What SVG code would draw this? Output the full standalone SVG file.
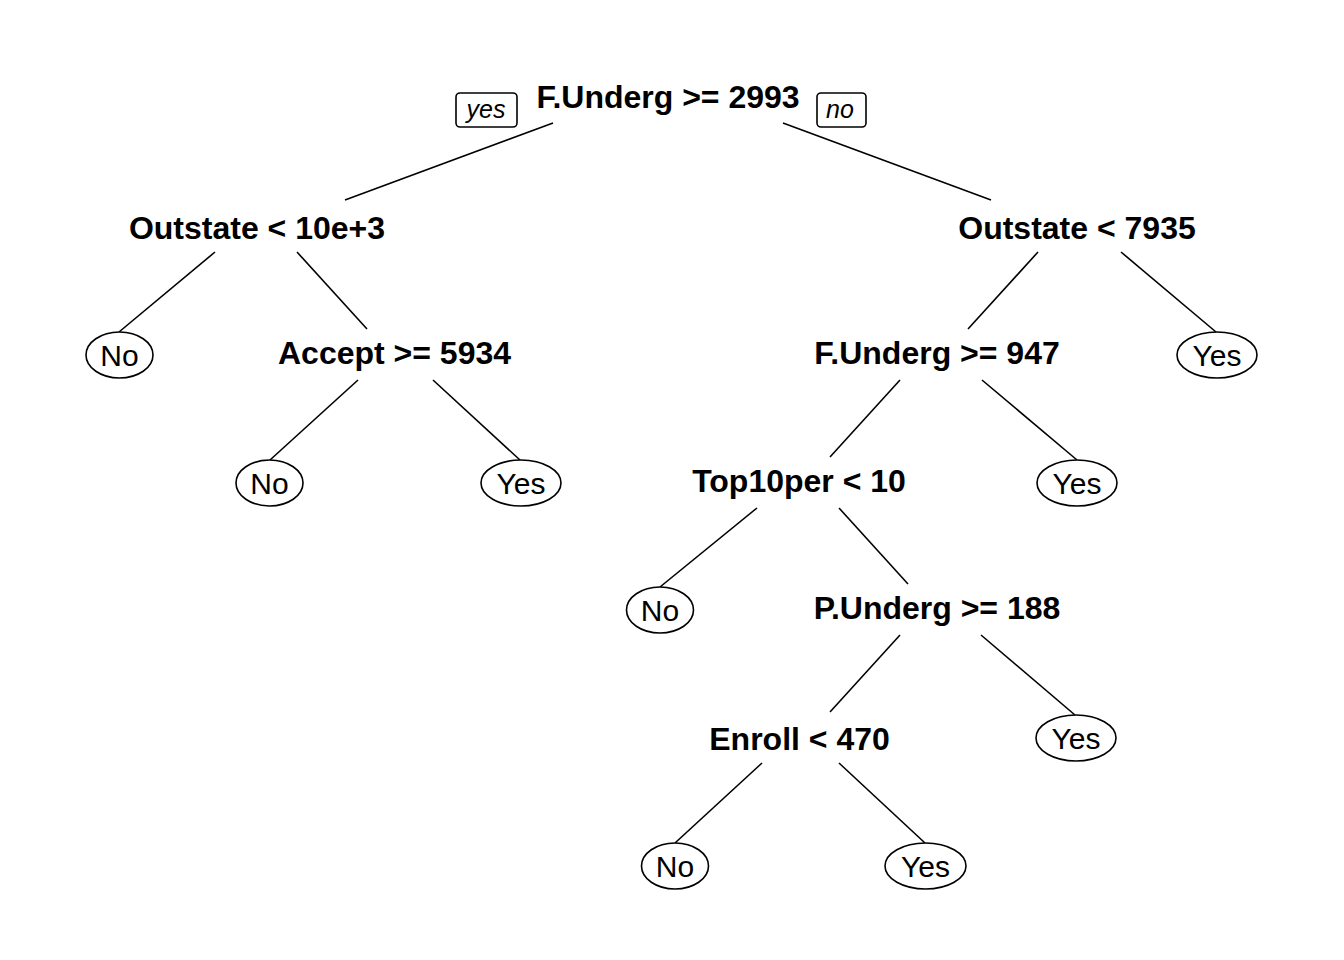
<svg xmlns="http://www.w3.org/2000/svg" width="1344" height="960" viewBox="0 0 1344 960">
<style>
.split{font-family:"Liberation Sans",Arial,sans-serif;font-weight:bold;font-size:32px;text-anchor:middle;fill:#000}
.leaf{font-family:"Liberation Sans",Arial,sans-serif;font-size:30px;text-anchor:middle;fill:#000}
.lab{font-family:"Liberation Sans",Arial,sans-serif;font-style:italic;font-size:25px;text-anchor:middle;fill:#000}
.box{fill:#fff;stroke:#000;stroke-width:1.6}
.ell{fill:#fff;stroke:#000;stroke-width:1.6}
.edges line{stroke:#000;stroke-width:1.6}
</style>
<rect width="1344" height="960" fill="#fff"/>
<g id="connectors" class="edges">
<line x1="553" y1="123" x2="345" y2="200"/>
<line x1="783" y1="123" x2="991" y2="200"/>
<line x1="215" y1="252" x2="119" y2="332"/>
<line x1="297" y1="252" x2="367" y2="329"/>
<line x1="358" y1="380" x2="270" y2="460"/>
<line x1="433" y1="380" x2="520" y2="460"/>
<line x1="1038" y1="252" x2="968" y2="329"/>
<line x1="1121" y1="252" x2="1216" y2="332"/>
<line x1="900" y1="380" x2="830" y2="457"/>
<line x1="982" y1="380" x2="1077" y2="460"/>
<line x1="757" y1="508" x2="660" y2="587"/>
<line x1="839" y1="508" x2="908" y2="584"/>
<line x1="900" y1="635" x2="830" y2="712"/>
<line x1="981" y1="635" x2="1075" y2="715"/>
<line x1="762" y1="763" x2="675" y2="843"/>
<line x1="839" y1="763" x2="925" y2="843"/>
</g>
<g id="branch-labels">
<rect class="box" x="456" y="93" width="61" height="34" rx="4"/>
<text class="lab" x="486" y="118">yes</text>
<rect class="box" x="817" y="93" width="49" height="34" rx="4"/>
<text class="lab" x="840" y="118">no</text>
</g>
<g id="n1"><text class="split" x="668" y="108">F.Underg &gt;= 2993</text></g>
<g id="n2"><text class="split" x="257" y="239">Outstate &lt; 10e+3</text></g>
<g id="n3"><text class="split" x="1077" y="239">Outstate &lt; 7935</text></g>
<g id="n4"><ellipse class="ell" cx="119.5" cy="355" rx="33.5" ry="23"/><text class="leaf" x="119.5" y="366">No</text></g>
<g id="n5"><text class="split" x="394.5" y="364">Accept &gt;= 5934</text></g>
<g id="n6"><ellipse class="ell" cx="269.5" cy="483" rx="33.5" ry="23"/><text class="leaf" x="269.5" y="494">No</text></g>
<g id="n7"><ellipse class="ell" cx="521" cy="483" rx="40" ry="23"/><text class="leaf" x="521" y="494">Yes</text></g>
<g id="n8"><text class="split" x="937" y="364">F.Underg &gt;= 947</text></g>
<g id="n9"><ellipse class="ell" cx="1217" cy="355" rx="40" ry="23"/><text class="leaf" x="1217" y="366">Yes</text></g>
<g id="n10"><text class="split" x="799" y="492">Top10per &lt; 10</text></g>
<g id="n11"><ellipse class="ell" cx="1077" cy="483" rx="40" ry="23"/><text class="leaf" x="1077" y="494">Yes</text></g>
<g id="n12"><ellipse class="ell" cx="660" cy="610" rx="33.5" ry="23"/><text class="leaf" x="660" y="621">No</text></g>
<g id="n13"><text class="split" x="937" y="619">P.Underg &gt;= 188</text></g>
<g id="n14"><text class="split" x="799.5" y="750">Enroll &lt; 470</text></g>
<g id="n15"><ellipse class="ell" cx="1076" cy="738" rx="40" ry="23"/><text class="leaf" x="1076" y="749">Yes</text></g>
<g id="n16"><ellipse class="ell" cx="675" cy="866" rx="33.5" ry="23"/><text class="leaf" x="675" y="877">No</text></g>
<g id="n17"><ellipse class="ell" cx="925.5" cy="866" rx="40.5" ry="23"/><text class="leaf" x="925.5" y="877">Yes</text></g>
</svg>
